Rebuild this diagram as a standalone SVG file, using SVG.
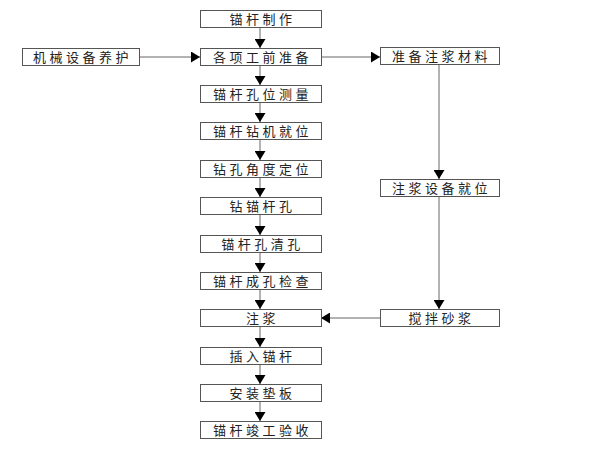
<svg xmlns="http://www.w3.org/2000/svg" width="600" height="450" viewBox="0 0 600 450">
<style>
.box{fill:#fff;stroke:#555;stroke-width:1}
.lbl{font-family:"Noto Sans CJK SC","Noto Sans",sans-serif;font-size:13px;letter-spacing:3.5px;fill:#222;text-anchor:middle}
.ln{fill:none;stroke:#666;stroke-width:1}
</style>
<defs>
<marker id="ah" markerUnits="userSpaceOnUse" markerWidth="9" markerHeight="11" viewBox="0 0 9 11" refX="9" refY="5.5" orient="auto">
<path d="M0,0 L9,5.5 L0,11 Z" fill="#000"/>
</marker>
</defs>
<rect width="600" height="450" fill="#fff"/>
<g id="connectors">
<line class="ln" x1="260" y1="27" x2="260" y2="48" marker-end="url(#ah)"/>
<line class="ln" x1="260" y1="66" x2="260" y2="85" marker-end="url(#ah)"/>
<line class="ln" x1="260" y1="103" x2="260" y2="122" marker-end="url(#ah)"/>
<line class="ln" x1="260" y1="140" x2="260" y2="160" marker-end="url(#ah)"/>
<line class="ln" x1="260" y1="178" x2="260" y2="197" marker-end="url(#ah)"/>
<line class="ln" x1="260" y1="215" x2="260" y2="235" marker-end="url(#ah)"/>
<line class="ln" x1="260" y1="253" x2="260" y2="272" marker-end="url(#ah)"/>
<line class="ln" x1="260" y1="290" x2="260" y2="309" marker-end="url(#ah)"/>
<line class="ln" x1="260" y1="327" x2="260" y2="347" marker-end="url(#ah)"/>
<line class="ln" x1="260" y1="365" x2="260" y2="384" marker-end="url(#ah)"/>
<line class="ln" x1="260" y1="402" x2="260" y2="421" marker-end="url(#ah)"/>
<line class="ln" x1="139" y1="57" x2="200" y2="57" marker-end="url(#ah)"/>
<line class="ln" x1="321" y1="57" x2="380" y2="57" marker-end="url(#ah)"/>
<line class="ln" x1="439" y1="65" x2="439" y2="179" marker-end="url(#ah)"/>
<line class="ln" x1="439" y1="197" x2="439" y2="309" marker-end="url(#ah)"/>
<line class="ln" x1="380" y1="318" x2="321" y2="318" marker-end="url(#ah)"/>
</g>
<g id="n1"><rect class="box" x="200.5" y="10.5" width="121" height="17"/><text class="lbl" x="262.5" y="23.5">锚杆制作</text></g>
<g id="n2"><rect class="box" x="200.5" y="48.5" width="121" height="17"/><text class="lbl" x="262.5" y="61.5">各项工前准备</text></g>
<g id="n3"><rect class="box" x="200.5" y="85.5" width="121" height="17"/><text class="lbl" x="262.5" y="98.5">锚杆孔位测量</text></g>
<g id="n4"><rect class="box" x="200.5" y="122.5" width="121" height="17"/><text class="lbl" x="262.5" y="135.5">锚杆钻机就位</text></g>
<g id="n5"><rect class="box" x="200.5" y="160.5" width="121" height="17"/><text class="lbl" x="262.5" y="173.5">钻孔角度定位</text></g>
<g id="n6"><rect class="box" x="200.5" y="197.5" width="121" height="17"/><text class="lbl" x="262.5" y="210.5">钻锚杆孔</text></g>
<g id="n7"><rect class="box" x="200.5" y="235.5" width="121" height="17"/><text class="lbl" x="262.5" y="248.5">锚杆孔清孔</text></g>
<g id="n8"><rect class="box" x="200.5" y="272.5" width="121" height="17"/><text class="lbl" x="262.5" y="285.5">锚杆成孔检查</text></g>
<g id="n9"><rect class="box" x="200.5" y="309.5" width="121" height="17"/><text class="lbl" x="262.5" y="322.5">注浆</text></g>
<g id="n10"><rect class="box" x="200.5" y="347.5" width="121" height="17"/><text class="lbl" x="262.5" y="360.5">插入锚杆</text></g>
<g id="n11"><rect class="box" x="200.5" y="384.5" width="121" height="17"/><text class="lbl" x="262.5" y="397.5">安装垫板</text></g>
<g id="n12"><rect class="box" x="200.5" y="421.5" width="121" height="17"/><text class="lbl" x="262.5" y="434.5">锚杆竣工验收</text></g>
<g id="n13"><rect class="box" x="22.5" y="48.5" width="117" height="17"/><text class="lbl" x="82.5" y="61.5">机械设备养护</text></g>
<g id="n14"><rect class="box" x="380.5" y="47.5" width="119" height="17"/><text class="lbl" x="441.5" y="60.5">准备注浆材料</text></g>
<g id="n15"><rect class="box" x="380.5" y="179.5" width="119" height="17"/><text class="lbl" x="441.5" y="192.5">注浆设备就位</text></g>
<g id="n16"><rect class="box" x="380.5" y="309.5" width="119" height="17"/><text class="lbl" x="441.5" y="322.5">搅拌砂浆</text></g>
</svg>
